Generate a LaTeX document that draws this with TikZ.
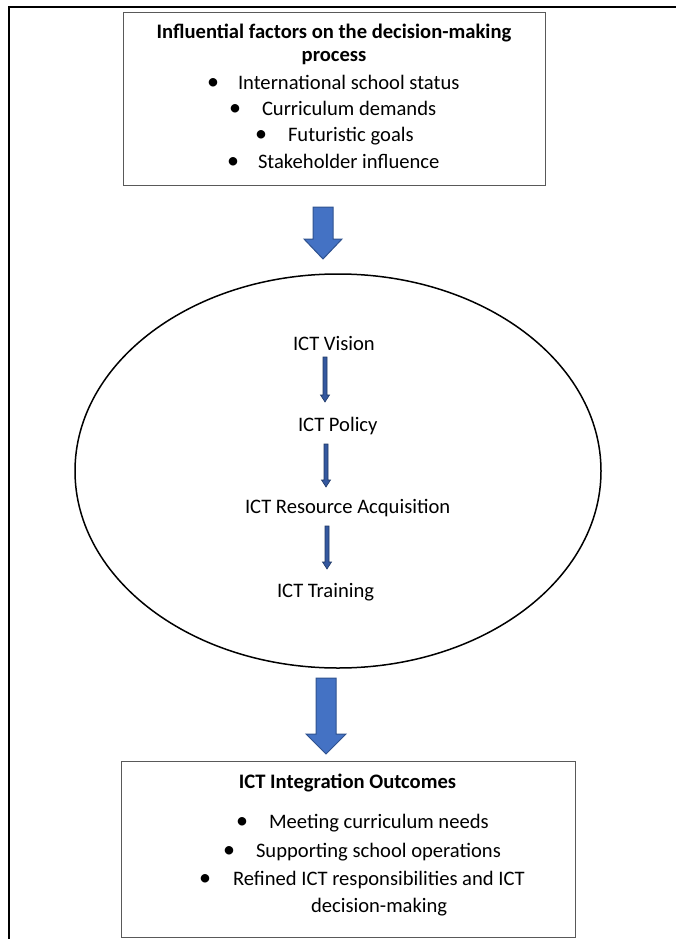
\documentclass[tikz,border=0pt]{standalone}
\usepackage{fontspec}
\setmainfont{Carlito}
\usetikzlibrary{shapes.geometric}
\definecolor{arrowblue}{HTML}{4472C4}
\definecolor{arrowedge}{HTML}{2F528F}
\definecolor{smallblue}{HTML}{34589F}
\definecolor{smalledge}{HTML}{1F3864}
\definecolor{boxline}{HTML}{595959}
\begin{document}
\begin{tikzpicture}[x=1pt,y=-1pt,
  txt/.style={inner sep=0pt, outer sep=0pt, font=\fontsize{20.6}{24}\selectfont, text=black},
  ttl/.style={txt, font=\fontsize{20.6}{24}\selectfont\bfseries},
  bul/.style={txt, font=\fontsize{24}{24}\selectfont},
  box/.style={draw=boxline, line width=1pt, inner sep=0pt, outer sep=0pt},
  bigarrow/.style={fill=arrowblue, draw=arrowedge, line width=1pt, line join=miter},
  smallarrow/.style={fill=smallblue, draw=smalledge, line width=0.6pt, line join=miter},
  frameline/.style={line width=2pt, black}
]
\path[use as bounding box] (0,0) rectangle (676,939);

% outer frame
\coordinate (fbl) at (9,939);
\coordinate (ftl) at (9,7);
\coordinate (ftr) at (676,7);
\draw[frameline] (fbl) -- (ftl) -- (ftr);

% top box
\node[box, anchor=north west, minimum width=422pt, minimum height=172pt] (top) at (123,13) {};
\node[ttl, anchor=base] (t1) at (334,39) {Influential factors on the decision-making};
\node[ttl, anchor=base] (t2) at (334,62) {process};
\node[bul, anchor=base] (tb1) at (213,90) {\textbullet};
\node[txt, anchor=base west] (ti1) at (238,90) {International school status};
\node[bul, anchor=base] (tb2) at (235,116) {\textbullet};
\node[txt, anchor=base west] (ti2) at (262,116) {Curriculum demands};
\node[bul, anchor=base] (tb3) at (261,142) {\textbullet};
\node[txt, anchor=base west] (ti3) at (288,142) {Futuristic goals};
\node[bul, anchor=base] (tb4) at (233,168) {\textbullet};
\node[txt, anchor=base west] (ti4) at (258,168) {Stakeholder influence};

% big arrow 1
\filldraw[bigarrow] (313,207) -- (333,207) -- (333,239) -- (342,239) -- (323,259)
  -- (304,239) -- (313,239) -- cycle;

% ellipse
\node[draw=black, line width=1.5pt, ellipse, inner sep=0pt, outer sep=0pt,
  minimum width=526pt, minimum height=394pt] (oval) at (338,471) {};
\node[txt, anchor=base west] (vis) at (293,350) {ICT Vision};
\node[txt, anchor=base west] (pol) at (298,431) {ICT Policy};
\node[txt, anchor=base west] (res) at (245,513) {ICT Resource Acquisition};
\node[txt, anchor=base west] (trn) at (277,597) {ICT Training};

% small arrows
\filldraw[smallarrow] (323,357) -- (327,357) -- (327,395) -- (329.5,395) -- (325,402)
  -- (320.5,395) -- (323,395) -- cycle;
\filldraw[smallarrow] (324,444) -- (328,444) -- (328,480) -- (330.5,480) -- (326,487)
  -- (321.5,480) -- (324,480) -- cycle;
\filldraw[smallarrow] (325,526) -- (329,526) -- (329,562) -- (331.5,562) -- (327,569)
  -- (322.5,562) -- (325,562) -- cycle;

% big arrow 2
\filldraw[bigarrow] (316,678) -- (336,678) -- (336,734) -- (346,734) -- (326,754)
  -- (306,734) -- (316,734) -- cycle;

% bottom box
\node[box, anchor=north west, minimum width=454pt, minimum height=176pt] (bot) at (121,761) {};
\node[ttl, anchor=base] (b0) at (347.5,788) {ICT Integration Outcomes};
\node[bul, anchor=base] (bb1) at (242,828) {\textbullet};
\node[txt, anchor=base west] (bi1) at (269,828) {Meeting curriculum needs};
\node[bul, anchor=base] (bb2) at (229,857) {\textbullet};
\node[txt, anchor=base west] (bi2) at (256,857) {Supporting school operations};
\node[bul, anchor=base] (bb3) at (205,885) {\textbullet};
\node[txt, anchor=base west] (bi3) at (233,885) {Refined ICT responsibilities and ICT};
\node[txt, anchor=base west] (bi4) at (311,912) {decision-making};
\end{tikzpicture}
\end{document}
